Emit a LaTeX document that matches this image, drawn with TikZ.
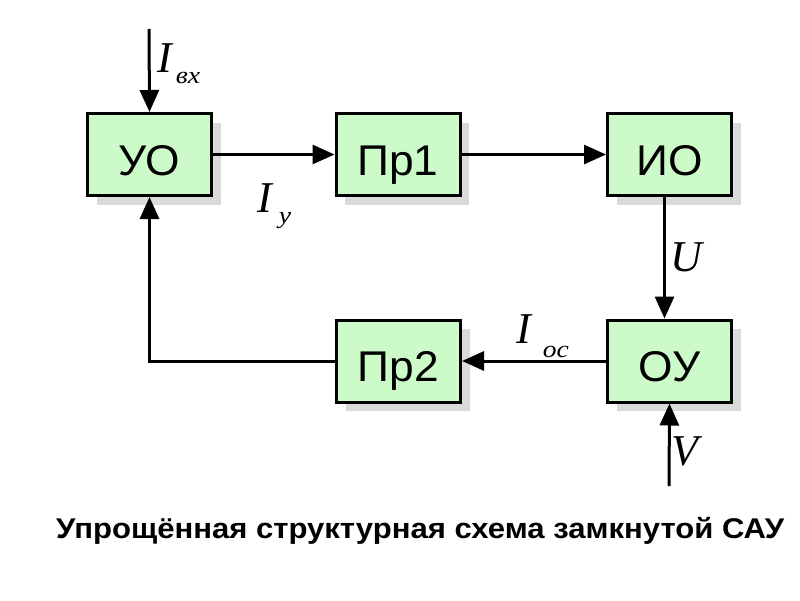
\documentclass[tikz,border=0pt]{standalone}
\usepackage{fontspec}
\setmainfont{Liberation Sans}
\newfontfamily\lserif{Liberation Serif}
\usetikzlibrary{arrows.meta,shadows}
\definecolor{boxgreen}{RGB}{204,250,200}
\definecolor{shadowgray}{RGB}{218,218,218}
\newcommand{\wide}[2]{\scalebox{#1}[1]{#2}}
\newcommand{\subtxt}[2]{\raisebox{-#1}{\fontsize{24}{24}\selectfont\wide{1.15}{#2}}}
\begin{document}
\begin{tikzpicture}[x=1pt,y=-1pt,
  blk/.style={draw=black, line width=3pt, fill=boxgreen, minimum width=124pt,
    minimum height=82pt, inner sep=0pt, text height=41pt, text depth=0pt,
    font=\fontsize{43}{43}\selectfont,
    drop shadow={shadow xshift=9pt, shadow yshift=-9pt, fill=shadowgray, opacity=1}},
  arr/.style={line width=3pt, -{Triangle[length=22pt,width=19pt]}},
  lbl/.style={font=\lserif\itshape\fontsize{44}{44}\selectfont, inner sep=0pt, anchor=base west}]
\useasboundingbox (0,0) rectangle (800,600);
\node[blk] (uo)  at (149.5,154.5) {\wide{1.03}{УО}};
\node[blk] (pr1) at (398,154.5) {\wide{1.03}{Пр1}};
\node[blk] (io)  at (669.5,154.5) {\wide{1.03}{ИО}};
\node[blk] (ou)  at (669.5,361) {\wide{1.03}{ОУ}};
\node[blk] (pr2) at (398.5,361) {\wide{1.03}{Пр2}};
\coordinate (iin) at (149,29);
\coordinate (vin) at (669,486);
\draw[arr] (iin) -- (uo.north);
\draw[arr] (uo.east) -- (pr1.west);
\draw[arr] (pr1.east) -- (io.west);
\draw[arr] ([xshift=-5pt]io.south) -- ([xshift=-5pt]ou.north);
\draw[arr] (ou.west) -- (pr2.east);
\draw[arr] (pr2.west) -| (uo.south);
\draw[arr] (vin) -- (ou.south);
\node[lbl] (lin) at (157,72) {I\kern4pt\subtxt{11pt}{вх}};
\node[lbl] (ly) at (257,212) {I\kern7pt\subtxt{11pt}{у}};
\node[lbl] (loc) at (516,343) {I\kern12pt\subtxt{14pt}{ос}};
\node[lbl] (lu) at (670,271) {U};
\node[lbl] (lv) at (671,465) {V};
\node[font=\bfseries\fontsize{28.5}{28.5}\selectfont, inner sep=0pt, anchor=base west] (cap) at (56,538)
  {\wide{1.09}{Упрощённая структурная схема замкнутой САУ}};
\end{tikzpicture}
\end{document}
